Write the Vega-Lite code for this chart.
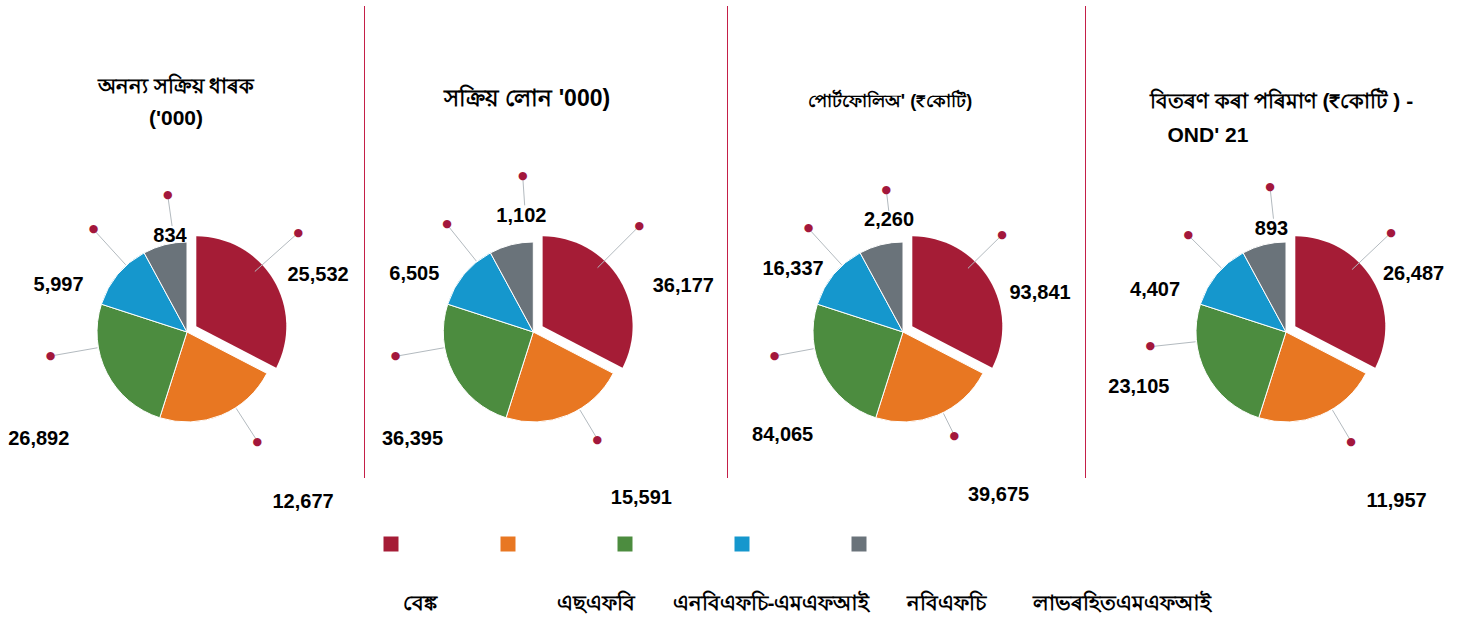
{
  "$schema": "https://vega.github.io/schema/vega-lite/v6.json",
  "padding": {"left": 0, "top": 6, "right": 0, "bottom": 0},
  "background": "#ffffff",
  "spacing": 0,
  "config": {
    "view": {"stroke": null},
    "title": {"font": "Liberation Sans", "fontSize": 21, "fontWeight": "bold", "color": "#000000", "anchor": "middle", "frame": "group"}
  },
  "datasets": {
    "p1": [
      {"cat": "বেঙ্ক", "idx": 1, "share": 32.6, "value": 25532},
      {"cat": "এছএফবি", "idx": 2, "share": 22.3, "value": 12677},
      {"cat": "এনবিএফচি-এমএফআই", "idx": 3, "share": 25.1, "value": 26892},
      {"cat": "নবিএফচি", "idx": 4, "share": 12.1, "value": 5997},
      {"cat": "লাভৰহিতএমএফআই", "idx": 5, "share": 7.9, "value": 834}
    ],
    "p2": [
      {"cat": "বেঙ্ক", "idx": 1, "share": 32.6, "value": 36177},
      {"cat": "এছএফবি", "idx": 2, "share": 22.3, "value": 15591},
      {"cat": "এনবিএফচি-এমএফআই", "idx": 3, "share": 25.1, "value": 36395},
      {"cat": "নবিএফচি", "idx": 4, "share": 12.1, "value": 6505},
      {"cat": "লাভৰহিতএমএফআই", "idx": 5, "share": 7.9, "value": 1102}
    ],
    "p3": [
      {"cat": "বেঙ্ক", "idx": 1, "share": 32.6, "value": 93841},
      {"cat": "এছএফবি", "idx": 2, "share": 22.3, "value": 39675},
      {"cat": "এনবিএফচি-এমএফআই", "idx": 3, "share": 25.1, "value": 84065},
      {"cat": "নবিএফচি", "idx": 4, "share": 12.1, "value": 16337},
      {"cat": "লাভৰহিতএমএফআই", "idx": 5, "share": 7.9, "value": 2260}
    ],
    "p4": [
      {"cat": "বেঙ্ক", "idx": 1, "share": 32.6, "value": 26487},
      {"cat": "এছএফবি", "idx": 2, "share": 22.3, "value": 11957},
      {"cat": "এনবিএফচি-এমএফআই", "idx": 3, "share": 25.1, "value": 23105},
      {"cat": "নবিএফচি", "idx": 4, "share": 12.1, "value": 4407},
      {"cat": "লাভৰহিতএমএফআই", "idx": 5, "share": 7.9, "value": 893}
    ],
    "cats": [
      {"cat": "বেঙ্ক", "idx": 1},
      {"cat": "এছএফবি", "idx": 2},
      {"cat": "এনবিএফচি-এমএফআই", "idx": 3},
      {"cat": "নবিএফচি", "idx": 4},
      {"cat": "লাভৰহিতএমএফআই", "idx": 5}
    ]
  },
  "vconcat": [
    {
      "spacing": 0,
      "bounds": "flush",
      "hconcat": [
        {
          "width": 364, "height": 510,
          "title": {"text": ["অনন্য সক্ৰিয় ধাৰক", "('000)"], "offset": -123, "dx": -6, "lineHeight": 32},
          "data": {"name": "p1"},
          "encoding": {
            "theta": {"field": "share", "type": "quantitative", "stack": true},
            "order": {"field": "idx", "type": "quantitative"}
          },
          "layer": [
            {"mark": {"type": "arc", "radius": 90, "stroke": "#ffffff", "strokeWidth": 1, "xOffset": 5, "yOffset": 71},
             "encoding": {"color": {"field": "cat", "type": "nominal", "scale": {"domain": ["বেঙ্ক", "এছএফবি", "এনবিএফচি-এমএফআই", "নবিএফচি", "লাভৰহিতএমএফআই"], "range": ["#a51c36", "#e87722", "#4c8c3f", "#1597cd", "#6a737a"]}, "legend": null},
               "opacity": {"condition": {"test": "datum.idx == 1", "value": 0}, "value": 1}}},
            {"mark": {"type": "arc", "radius": 90, "xOffset": 14.3, "yOffset": 65.3},
             "encoding": {"color": {"field": "cat", "type": "nominal", "scale": {"domain": ["বেঙ্ক", "এছএফবি", "এনবিএফচি-এমএফআই", "নবিএফচি", "লাভৰহিতএমএফআই"], "range": ["#a51c36", "#e87722", "#4c8c3f", "#1597cd", "#6a737a"]}, "legend": null},
               "opacity": {"condition": {"test": "datum.idx == 1", "value": 1}, "value": 0}}},
            {"mark": {"type": "arc", "radius": 146, "radius2": 91, "thetaOffset": 0.8423, "filled": false, "stroke": "#b3babf", "strokeWidth": 1, "strokeDash": [0, 299.05, 55, 3000], "xOffset": 5, "yOffset": 71},
             "encoding": {"detail": {"field": "cat", "type": "nominal"}, "opacity": {"condition": {"test": "datum.idx == 1", "value": 1}, "value": 0}}},
            {"mark": {"type": "arc", "radius": 127, "radius2": 91, "thetaOffset": 0.5208, "filled": false, "stroke": "#b3babf", "strokeWidth": 1, "strokeDash": [0, 177.94, 36, 3000], "xOffset": 5, "yOffset": 71},
             "encoding": {"detail": {"field": "cat", "type": "nominal"}, "opacity": {"condition": {"test": "datum.idx == 2", "value": 1}, "value": 0}}},
            {"mark": {"type": "arc", "radius": 135, "radius2": 91, "thetaOffset": 1.0886, "filled": false, "stroke": "#b3babf", "strokeWidth": 1, "strokeDash": [0, 212.91, 44, 3000], "xOffset": 5, "yOffset": 71},
             "encoding": {"detail": {"field": "cat", "type": "nominal"}, "opacity": {"condition": {"test": "datum.idx == 3", "value": 1}, "value": 0}}},
            {"mark": {"type": "arc", "radius": 136, "radius2": 91, "thetaOffset": 0.5173, "filled": false, "stroke": "#b3babf", "strokeWidth": 1, "strokeDash": [0, 103.4, 45, 3000], "xOffset": 5, "yOffset": 71},
             "encoding": {"detail": {"field": "cat", "type": "nominal"}, "opacity": {"condition": {"test": "datum.idx == 4", "value": 1}, "value": 0}}},
            {"mark": {"type": "arc", "radius": 135, "radius2": 107, "thetaOffset": 0.3564, "filled": false, "stroke": "#b3babf", "strokeWidth": 1, "strokeDash": [0, 67.01, 28, 3000], "xOffset": 5, "yOffset": 71},
             "encoding": {"detail": {"field": "cat", "type": "nominal"}, "opacity": {"condition": {"test": "datum.idx == 5", "value": 1}, "value": 0}}},
            {"mark": {"type": "text", "radius": 143.1, "thetaOffset": 0.1335, "xOffset": 5, "yOffset": 71, "font": "Liberation Sans", "fontSize": 20, "fontWeight": "bold", "color": "#000000"},
             "encoding": {"detail": {"field": "cat", "type": "nominal"}, "text": {"condition": {"test": "datum.idx == 1", "field": "value", "type": "quantitative", "format": ","}, "value": ""}}},
            {"mark": {"type": "text", "radius": 206.1, "thetaOffset": -0.2054, "xOffset": 5, "yOffset": 71, "font": "Liberation Sans", "fontSize": 20, "fontWeight": "bold", "color": "#000000"},
             "encoding": {"detail": {"field": "cat", "type": "nominal"}, "text": {"condition": {"test": "datum.idx == 2", "field": "value", "type": "quantitative", "format": ","}, "value": ""}}},
            {"mark": {"type": "text", "radius": 182.6, "thetaOffset": -0.1487, "xOffset": 5, "yOffset": 71, "font": "Liberation Sans", "fontSize": 20, "fontWeight": "bold", "color": "#000000"},
             "encoding": {"detail": {"field": "cat", "type": "nominal"}, "text": {"condition": {"test": "datum.idx == 3", "field": "value", "type": "quantitative", "format": ","}, "value": ""}}},
            {"mark": {"type": "text", "radius": 136.8, "thetaOffset": -0.3421, "xOffset": 5, "yOffset": 71, "font": "Liberation Sans", "fontSize": 20, "fontWeight": "bold", "color": "#000000"},
             "encoding": {"detail": {"field": "cat", "type": "nominal"}, "text": {"condition": {"test": "datum.idx == 4", "field": "value", "type": "quantitative", "format": ","}, "value": ""}}},
            {"mark": {"type": "text", "radius": 97, "thetaOffset": 0.0726, "xOffset": 5, "yOffset": 71, "font": "Liberation Sans", "fontSize": 20, "fontWeight": "bold", "color": "#000000"},
             "encoding": {"detail": {"field": "cat", "type": "nominal"}, "text": {"condition": {"test": "datum.idx == 5", "field": "value", "type": "quantitative", "format": ","}, "value": ""}}},
            {"mark": {"type": "text", "radius": 149.2, "thetaOffset": -0.1813, "xOffset": 5, "yOffset": 71, "font": "DejaVu Sans", "fontSize": 11, "color": "#a3173c"},
             "encoding": {"detail": {"field": "cat", "type": "nominal"}, "text": {"condition": {"test": "datum.idx == 1", "value": "●"}, "value": ""}}},
            {"mark": {"type": "text", "radius": 130.5, "thetaOffset": -0.1772, "xOffset": 5, "yOffset": 71, "font": "DejaVu Sans", "fontSize": 11, "color": "#a3173c"},
             "encoding": {"detail": {"field": "cat", "type": "nominal"}, "text": {"condition": {"test": "datum.idx == 2", "value": "●"}, "value": ""}}},
            {"mark": {"type": "text", "radius": 138.4, "thetaOffset": 0.303, "xOffset": 5, "yOffset": 71, "font": "DejaVu Sans", "fontSize": 11, "color": "#a3173c"},
             "encoding": {"detail": {"field": "cat", "type": "nominal"}, "text": {"condition": {"test": "datum.idx == 3", "value": "●"}, "value": ""}}},
            {"mark": {"type": "text", "radius": 139, "thetaOffset": 0.1384, "xOffset": 5, "yOffset": 71, "font": "DejaVu Sans", "fontSize": 11, "color": "#a3173c"},
             "encoding": {"detail": {"field": "cat", "type": "nominal"}, "text": {"condition": {"test": "datum.idx == 4", "value": "●"}, "value": ""}}},
            {"mark": {"type": "text", "radius": 138.4, "thetaOffset": 0.1087, "xOffset": 5, "yOffset": 71, "font": "DejaVu Sans", "fontSize": 11, "color": "#a3173c"},
             "encoding": {"detail": {"field": "cat", "type": "nominal"}, "text": {"condition": {"test": "datum.idx == 5", "value": "●"}, "value": ""}}}
          ]
        },
        {"width": 1, "height": 472, "data": {"values": [{"s": 1}]}, "mark": {"type": "rect", "color": "#c41f48"}, "encoding": {}},
        {
          "width": 362, "height": 510,
          "title": {"text": "সক্ৰিয় লোন '000)", "offset": -105, "dx": -19, "fontSize": 23},
          "data": {"name": "p2"},
          "encoding": {
            "theta": {"field": "share", "type": "quantitative", "stack": true},
            "order": {"field": "idx", "type": "quantitative"}
          },
          "layer": [
            {"mark": {"type": "arc", "radius": 90, "stroke": "#ffffff", "strokeWidth": 1, "xOffset": -12.7, "yOffset": 71},
             "encoding": {"color": {"field": "cat", "type": "nominal", "scale": {"domain": ["বেঙ্ক", "এছএফবি", "এনবিএফচি-এমএফআই", "নবিএফচি", "লাভৰহিতএমএফআই"], "range": ["#a51c36", "#e87722", "#4c8c3f", "#1597cd", "#6a737a"]}, "legend": null},
               "opacity": {"condition": {"test": "datum.idx == 1", "value": 0}, "value": 1}}},
            {"mark": {"type": "arc", "radius": 90, "xOffset": -3.4, "yOffset": 65.3},
             "encoding": {"color": {"field": "cat", "type": "nominal", "scale": {"domain": ["বেঙ্ক", "এছএফবি", "এনবিএফচি-এমএফআই", "নবিএফচি", "লাভৰহিতএমএফআই"], "range": ["#a51c36", "#e87722", "#4c8c3f", "#1597cd", "#6a737a"]}, "legend": null},
               "opacity": {"condition": {"test": "datum.idx == 1", "value": 1}, "value": 0}}},
            {"mark": {"type": "arc", "radius": 147, "radius2": 91, "thetaOffset": 0.7854, "filled": false, "stroke": "#b3babf", "strokeWidth": 1, "strokeDash": [0, 301.1, 56, 3000], "xOffset": -12.7, "yOffset": 71},
             "encoding": {"detail": {"field": "cat", "type": "nominal"}, "opacity": {"condition": {"test": "datum.idx == 1", "value": 1}, "value": 0}}},
            {"mark": {"type": "arc", "radius": 122, "radius2": 91, "thetaOffset": 0.554, "filled": false, "stroke": "#b3babf", "strokeWidth": 1, "strokeDash": [0, 170.93, 31, 3000], "xOffset": -12.7, "yOffset": 71},
             "encoding": {"detail": {"field": "cat", "type": "nominal"}, "opacity": {"condition": {"test": "datum.idx == 2", "value": 1}, "value": 0}}},
            {"mark": {"type": "arc", "radius": 137, "radius2": 91, "thetaOffset": 1.0881, "filled": false, "stroke": "#b3babf", "strokeWidth": 1, "strokeDash": [0, 216.06, 46, 3000], "xOffset": -12.7, "yOffset": 71},
             "encoding": {"detail": {"field": "cat", "type": "nominal"}, "opacity": {"condition": {"test": "datum.idx == 3", "value": 1}, "value": 0}}},
            {"mark": {"type": "arc", "radius": 135, "radius2": 91, "thetaOffset": 0.58, "filled": false, "stroke": "#b3babf", "strokeWidth": 1, "strokeDash": [0, 102.64, 44, 3000], "xOffset": -12.7, "yOffset": 71},
             "encoding": {"detail": {"field": "cat", "type": "nominal"}, "opacity": {"condition": {"test": "datum.idx == 4", "value": 1}, "value": 0}}},
            {"mark": {"type": "arc", "radius": 153, "radius2": 127, "thetaOffset": 0.4285, "filled": false, "stroke": "#b3babf", "strokeWidth": 1, "strokeDash": [0, 75.95, 26, 3000], "xOffset": -12.7, "yOffset": 71},
             "encoding": {"detail": {"field": "cat", "type": "nominal"}, "opacity": {"condition": {"test": "datum.idx == 5", "value": 1}, "value": 0}}},
            {"mark": {"type": "text", "radius": 157, "thetaOffset": 0.2466, "xOffset": -12.7, "yOffset": 71, "font": "Liberation Sans", "fontSize": 20, "fontWeight": "bold", "color": "#000000"},
             "encoding": {"detail": {"field": "cat", "type": "nominal"}, "text": {"condition": {"test": "datum.idx == 1", "field": "value", "type": "quantitative", "format": ","}, "value": ""}}},
            {"mark": {"type": "text", "radius": 197.9, "thetaOffset": -0.185, "xOffset": -12.7, "yOffset": 71, "font": "Liberation Sans", "fontSize": 20, "fontWeight": "bold", "color": "#000000"},
             "encoding": {"detail": {"field": "cat", "type": "nominal"}, "text": {"condition": {"test": "datum.idx == 2", "field": "value", "type": "quantitative", "format": ","}, "value": ""}}},
            {"mark": {"type": "text", "radius": 161.5, "thetaOffset": -0.251, "xOffset": -12.7, "yOffset": 71, "font": "Liberation Sans", "fontSize": 20, "fontWeight": "bold", "color": "#000000"},
             "encoding": {"detail": {"field": "cat", "type": "nominal"}, "text": {"condition": {"test": "datum.idx == 3", "field": "value", "type": "quantitative", "format": ","}, "value": ""}}},
            {"mark": {"type": "text", "radius": 132.2, "thetaOffset": -0.2428, "xOffset": -12.7, "yOffset": 71, "font": "Liberation Sans", "fontSize": 20, "fontWeight": "bold", "color": "#000000"},
             "encoding": {"detail": {"field": "cat", "type": "nominal"}, "text": {"condition": {"test": "datum.idx == 4", "field": "value", "type": "quantitative", "format": ","}, "value": ""}}},
            {"mark": {"type": "text", "radius": 117.1, "thetaOffset": 0.1461, "xOffset": -12.7, "yOffset": 71, "font": "Liberation Sans", "fontSize": 20, "fontWeight": "bold", "color": "#000000"},
             "encoding": {"detail": {"field": "cat", "type": "nominal"}, "text": {"condition": {"test": "datum.idx == 5", "field": "value", "type": "quantitative", "format": ","}, "value": ""}}},
            {"mark": {"type": "text", "radius": 149.9, "thetaOffset": -0.2382, "xOffset": -12.7, "yOffset": 71, "font": "DejaVu Sans", "fontSize": 11, "color": "#a3173c"},
             "encoding": {"detail": {"field": "cat", "type": "nominal"}, "text": {"condition": {"test": "datum.idx == 1", "value": "●"}, "value": ""}}},
            {"mark": {"type": "text", "radius": 125.4, "thetaOffset": -0.144, "xOffset": -12.7, "yOffset": 71, "font": "DejaVu Sans", "fontSize": 11, "color": "#a3173c"},
             "encoding": {"detail": {"field": "cat", "type": "nominal"}, "text": {"condition": {"test": "datum.idx == 2", "value": "●"}, "value": ""}}},
            {"mark": {"type": "text", "radius": 139.7, "thetaOffset": 0.3025, "xOffset": -12.7, "yOffset": 71, "font": "DejaVu Sans", "fontSize": 11, "color": "#a3173c"},
             "encoding": {"detail": {"field": "cat", "type": "nominal"}, "text": {"condition": {"test": "datum.idx == 3", "value": "●"}, "value": ""}}},
            {"mark": {"type": "text", "radius": 137.8, "thetaOffset": 0.2011, "xOffset": -12.7, "yOffset": 71, "font": "DejaVu Sans", "fontSize": 11, "color": "#a3173c"},
             "encoding": {"detail": {"field": "cat", "type": "nominal"}, "text": {"condition": {"test": "datum.idx == 4", "value": "●"}, "value": ""}}},
            {"mark": {"type": "text", "radius": 156.4, "thetaOffset": 0.1808, "xOffset": -12.7, "yOffset": 71, "font": "DejaVu Sans", "fontSize": 11, "color": "#a3173c"},
             "encoding": {"detail": {"field": "cat", "type": "nominal"}, "text": {"condition": {"test": "datum.idx == 5", "value": "●"}, "value": ""}}}
          ]
        },
        {"width": 1, "height": 472, "data": {"values": [{"s": 1}]}, "mark": {"type": "rect", "color": "#c41f48"}, "encoding": {}},
        {
          "width": 357, "height": 510,
          "title": {"text": "পোৰ্টফোলিঅ' (₹কোটি)", "offset": -105, "dx": -16.5, "fontSize": 18},
          "data": {"name": "p3"},
          "encoding": {
            "theta": {"field": "share", "type": "quantitative", "stack": true},
            "order": {"field": "idx", "type": "quantitative"}
          },
          "layer": [
            {"mark": {"type": "arc", "radius": 90, "stroke": "#ffffff", "strokeWidth": 1, "xOffset": -3.5, "yOffset": 71},
             "encoding": {"color": {"field": "cat", "type": "nominal", "scale": {"domain": ["বেঙ্ক", "এছএফবি", "এনবিএফচি-এমএফআই", "নবিএফচি", "লাভৰহিতএমএফআই"], "range": ["#a51c36", "#e87722", "#4c8c3f", "#1597cd", "#6a737a"]}, "legend": null},
               "opacity": {"condition": {"test": "datum.idx == 1", "value": 0}, "value": 1}}},
            {"mark": {"type": "arc", "radius": 90, "xOffset": 5.8, "yOffset": 65.3},
             "encoding": {"color": {"field": "cat", "type": "nominal", "scale": {"domain": ["বেঙ্ক", "এছএফবি", "এনবিএফচি-এমএফআই", "নবিএফচি", "লাভৰহিতএমএফআই"], "range": ["#a51c36", "#e87722", "#4c8c3f", "#1597cd", "#6a737a"]}, "legend": null},
               "opacity": {"condition": {"test": "datum.idx == 1", "value": 1}, "value": 0}}},
            {"mark": {"type": "arc", "radius": 136, "radius2": 91, "thetaOffset": 0.7955, "filled": false, "stroke": "#b3babf", "strokeWidth": 1, "strokeDash": [0, 278.57, 45, 3000], "xOffset": -3.5, "yOffset": 71},
             "encoding": {"detail": {"field": "cat", "type": "nominal"}, "opacity": {"condition": {"test": "datum.idx == 1", "value": 1}, "value": 0}}},
            {"mark": {"type": "arc", "radius": 113, "radius2": 91, "thetaOffset": 0.632, "filled": false, "stroke": "#b3babf", "strokeWidth": 1, "strokeDash": [0, 158.32, 22, 3000], "xOffset": -3.5, "yOffset": 71},
             "encoding": {"detail": {"field": "cat", "type": "nominal"}, "opacity": {"condition": {"test": "datum.idx == 2", "value": 1}, "value": 0}}},
            {"mark": {"type": "arc", "radius": 128, "radius2": 91, "thetaOffset": 1.078, "filled": false, "stroke": "#b3babf", "strokeWidth": 1, "strokeDash": [0, 201.87, 37, 3000], "xOffset": -3.5, "yOffset": 71},
             "encoding": {"detail": {"field": "cat", "type": "nominal"}, "opacity": {"condition": {"test": "datum.idx == 3", "value": 1}, "value": 0}}},
            {"mark": {"type": "arc", "radius": 137, "radius2": 91, "thetaOffset": 0.5167, "filled": false, "stroke": "#b3babf", "strokeWidth": 1, "strokeDash": [0, 104.16, 46, 3000], "xOffset": -3.5, "yOffset": 71},
             "encoding": {"detail": {"field": "cat", "type": "nominal"}, "opacity": {"condition": {"test": "datum.idx == 4", "value": 1}, "value": 0}}},
            {"mark": {"type": "arc", "radius": 140, "radius2": 122, "thetaOffset": 0.3793, "filled": false, "stroke": "#b3babf", "strokeWidth": 1, "strokeDash": [0, 69.5, 18, 3000], "xOffset": -3.5, "yOffset": 71},
             "encoding": {"detail": {"field": "cat", "type": "nominal"}, "opacity": {"condition": {"test": "datum.idx == 5", "value": 1}, "value": 0}}},
            {"mark": {"type": "text", "radius": 142.6, "thetaOffset": 0.2665, "xOffset": -3.5, "yOffset": 71, "font": "Liberation Sans", "fontSize": 20, "fontWeight": "bold", "color": "#000000"},
             "encoding": {"detail": {"field": "cat", "type": "nominal"}, "text": {"condition": {"test": "datum.idx == 1", "field": "value", "type": "quantitative", "format": ","}, "value": ""}}},
            {"mark": {"type": "text", "radius": 188.7, "thetaOffset": -0.1382, "xOffset": -3.5, "yOffset": 71, "font": "Liberation Sans", "fontSize": 20, "fontWeight": "bold", "color": "#000000"},
             "encoding": {"detail": {"field": "cat", "type": "nominal"}, "text": {"condition": {"test": "datum.idx == 2", "field": "value", "type": "quantitative", "format": ","}, "value": ""}}},
            {"mark": {"type": "text", "radius": 158.5, "thetaOffset": -0.2342, "xOffset": -3.5, "yOffset": 71, "font": "Liberation Sans", "fontSize": 20, "fontWeight": "bold", "color": "#000000"},
             "encoding": {"detail": {"field": "cat", "type": "nominal"}, "text": {"condition": {"test": "datum.idx == 3", "field": "value", "type": "quantitative", "format": ","}, "value": ""}}},
            {"mark": {"type": "text", "radius": 126.8, "thetaOffset": -0.1728, "xOffset": -3.5, "yOffset": 71, "font": "Liberation Sans", "fontSize": 20, "fontWeight": "bold", "color": "#000000"},
             "encoding": {"detail": {"field": "cat", "type": "nominal"}, "text": {"condition": {"test": "datum.idx == 4", "field": "value", "type": "quantitative", "format": ","}, "value": ""}}},
            {"mark": {"type": "text", "radius": 112.4, "thetaOffset": 0.1237, "xOffset": -3.5, "yOffset": 71, "font": "Liberation Sans", "fontSize": 20, "fontWeight": "bold", "color": "#000000"},
             "encoding": {"detail": {"field": "cat", "type": "nominal"}, "text": {"condition": {"test": "datum.idx == 5", "field": "value", "type": "quantitative", "format": ","}, "value": ""}}},
            {"mark": {"type": "text", "radius": 138.6, "thetaOffset": -0.2281, "xOffset": -3.5, "yOffset": 71, "font": "DejaVu Sans", "fontSize": 11, "color": "#a3173c"},
             "encoding": {"detail": {"field": "cat", "type": "nominal"}, "text": {"condition": {"test": "datum.idx == 1", "value": "●"}, "value": ""}}},
            {"mark": {"type": "text", "radius": 116.1, "thetaOffset": -0.066, "xOffset": -3.5, "yOffset": 71, "font": "DejaVu Sans", "fontSize": 11, "color": "#a3173c"},
             "encoding": {"detail": {"field": "cat", "type": "nominal"}, "text": {"condition": {"test": "datum.idx == 2", "value": "●"}, "value": ""}}},
            {"mark": {"type": "text", "radius": 130.5, "thetaOffset": 0.2923, "xOffset": -3.5, "yOffset": 71, "font": "DejaVu Sans", "fontSize": 11, "color": "#a3173c"},
             "encoding": {"detail": {"field": "cat", "type": "nominal"}, "text": {"condition": {"test": "datum.idx == 3", "value": "●"}, "value": ""}}},
            {"mark": {"type": "text", "radius": 140.4, "thetaOffset": 0.1379, "xOffset": -3.5, "yOffset": 71, "font": "DejaVu Sans", "fontSize": 11, "color": "#a3173c"},
             "encoding": {"detail": {"field": "cat", "type": "nominal"}, "text": {"condition": {"test": "datum.idx == 4", "value": "●"}, "value": ""}}},
            {"mark": {"type": "text", "radius": 143, "thetaOffset": 0.1316, "xOffset": -3.5, "yOffset": 71, "font": "DejaVu Sans", "fontSize": 11, "color": "#a3173c"},
             "encoding": {"detail": {"field": "cat", "type": "nominal"}, "text": {"condition": {"test": "datum.idx == 5", "value": "●"}, "value": ""}}}
          ]
        },
        {"width": 1, "height": 472, "data": {"values": [{"s": 1}]}, "mark": {"type": "rect", "color": "#c41f48"}, "encoding": {}},
        {
          "width": 385, "height": 510,
          "title": {"text": ["বিতৰণ কৰা পৰিমাণ (₹কোটি ) -", "\u200b\u00a0\u00a0\u00a0OND' 21"], "offset": -140, "anchor": "start", "dx": 64, "lineHeight": 34},
          "data": {"name": "p4"},
          "encoding": {
            "theta": {"field": "share", "type": "quantitative", "stack": true},
            "order": {"field": "idx", "type": "quantitative"}
          },
          "layer": [
            {"mark": {"type": "arc", "radius": 90, "stroke": "#ffffff", "strokeWidth": 1, "xOffset": 7.5, "yOffset": 71},
             "encoding": {"color": {"field": "cat", "type": "nominal", "scale": {"domain": ["বেঙ্ক", "এছএফবি", "এনবিএফচি-এমএফআই", "নবিএফচি", "লাভৰহিতএমএফআই"], "range": ["#a51c36", "#e87722", "#4c8c3f", "#1597cd", "#6a737a"]}, "legend": null},
               "opacity": {"condition": {"test": "datum.idx == 1", "value": 0}, "value": 1}}},
            {"mark": {"type": "arc", "radius": 90, "xOffset": 16.8, "yOffset": 65.3},
             "encoding": {"color": {"field": "cat", "type": "nominal", "scale": {"domain": ["বেঙ্ক", "এছএফবি", "এনবিএফচি-এমএফআই", "নবিএফচি", "লাভৰহিতএমএফআই"], "range": ["#a51c36", "#e87722", "#4c8c3f", "#1597cd", "#6a737a"]}, "legend": null},
               "opacity": {"condition": {"test": "datum.idx == 1", "value": 1}, "value": 0}}},
            {"mark": {"type": "arc", "radius": 141, "radius2": 91, "thetaOffset": 0.8133, "filled": false, "stroke": "#b3babf", "strokeWidth": 1, "strokeDash": [0, 288.81, 50, 3000], "xOffset": 7.5, "yOffset": 71},
             "encoding": {"detail": {"field": "cat", "type": "nominal"}, "opacity": {"condition": {"test": "datum.idx == 1", "value": 1}, "value": 0}}},
            {"mark": {"type": "arc", "radius": 125, "radius2": 91, "thetaOffset": 0.5564, "filled": false, "stroke": "#b3babf", "strokeWidth": 1, "strokeDash": [0, 175.14, 34, 3000], "xOffset": 7.5, "yOffset": 71},
             "encoding": {"detail": {"field": "cat", "type": "nominal"}, "opacity": {"condition": {"test": "datum.idx == 2", "value": 1}, "value": 0}}},
            {"mark": {"type": "arc", "radius": 133, "radius2": 91, "thetaOffset": 1.1551, "filled": false, "stroke": "#b3babf", "strokeWidth": 1, "strokeDash": [0, 209.75, 42, 3000], "xOffset": 7.5, "yOffset": 71},
             "encoding": {"detail": {"field": "cat", "type": "nominal"}, "opacity": {"condition": {"test": "datum.idx == 3", "value": 1}, "value": 0}}},
            {"mark": {"type": "arc", "radius": 134, "radius2": 91, "thetaOffset": 0.4662, "filled": false, "stroke": "#b3babf", "strokeWidth": 1, "strokeDash": [0, 101.88, 43, 3000], "xOffset": 7.5, "yOffset": 71},
             "encoding": {"detail": {"field": "cat", "type": "nominal"}, "opacity": {"condition": {"test": "datum.idx == 4", "value": 1}, "value": 0}}},
            {"mark": {"type": "arc", "radius": 143, "radius2": 114, "thetaOffset": 0.3863, "filled": false, "stroke": "#b3babf", "strokeWidth": 1, "strokeDash": [0, 70.99, 29, 3000], "xOffset": 7.5, "yOffset": 71},
             "encoding": {"detail": {"field": "cat", "type": "nominal"}, "opacity": {"condition": {"test": "datum.idx == 5", "value": 1}, "value": 0}}},
            {"mark": {"type": "text", "radius": 140.1, "thetaOffset": 0.1203, "xOffset": 7.5, "yOffset": 71, "font": "Liberation Sans", "fontSize": 20, "fontWeight": "bold", "color": "#000000"},
             "encoding": {"detail": {"field": "cat", "type": "nominal"}, "text": {"condition": {"test": "datum.idx == 1", "field": "value", "type": "quantitative", "format": ","}, "value": ""}}},
            {"mark": {"type": "text", "radius": 201.8, "thetaOffset": -0.1873, "xOffset": 7.5, "yOffset": 71, "font": "Liberation Sans", "fontSize": 20, "fontWeight": "bold", "color": "#000000"},
             "encoding": {"detail": {"field": "cat", "type": "nominal"}, "text": {"condition": {"test": "datum.idx == 2", "field": "value", "type": "quantitative", "format": ","}, "value": ""}}},
            {"mark": {"type": "text", "radius": 157.1, "thetaOffset": 0.1164, "xOffset": 7.5, "yOffset": 71, "font": "Liberation Sans", "fontSize": 20, "fontWeight": "bold", "color": "#000000"},
             "encoding": {"detail": {"field": "cat", "type": "nominal"}, "text": {"condition": {"test": "datum.idx == 3", "field": "value", "type": "quantitative", "format": ","}, "value": ""}}},
            {"mark": {"type": "text", "radius": 137.4, "thetaOffset": -0.3861, "xOffset": 7.5, "yOffset": 71, "font": "Liberation Sans", "fontSize": 20, "fontWeight": "bold", "color": "#000000"},
             "encoding": {"detail": {"field": "cat", "type": "nominal"}, "text": {"condition": {"test": "datum.idx == 4", "field": "value", "type": "quantitative", "format": ","}, "value": ""}}},
            {"mark": {"type": "text", "radius": 104, "thetaOffset": 0.1089, "xOffset": 7.5, "yOffset": 71, "font": "Liberation Sans", "fontSize": 20, "fontWeight": "bold", "color": "#000000"},
             "encoding": {"detail": {"field": "cat", "type": "nominal"}, "text": {"condition": {"test": "datum.idx == 5", "field": "value", "type": "quantitative", "format": ","}, "value": ""}}},
            {"mark": {"type": "text", "radius": 144.5, "thetaOffset": -0.2103, "xOffset": 7.5, "yOffset": 71, "font": "DejaVu Sans", "fontSize": 11, "color": "#a3173c"},
             "encoding": {"detail": {"field": "cat", "type": "nominal"}, "text": {"condition": {"test": "datum.idx == 1", "value": "●"}, "value": ""}}},
            {"mark": {"type": "text", "radius": 127.7, "thetaOffset": -0.1415, "xOffset": 7.5, "yOffset": 71, "font": "DejaVu Sans", "fontSize": 11, "color": "#a3173c"},
             "encoding": {"detail": {"field": "cat", "type": "nominal"}, "text": {"condition": {"test": "datum.idx == 2", "value": "●"}, "value": ""}}},
            {"mark": {"type": "text", "radius": 136.5, "thetaOffset": 0.3695, "xOffset": 7.5, "yOffset": 71, "font": "DejaVu Sans", "fontSize": 11, "color": "#a3173c"},
             "encoding": {"detail": {"field": "cat", "type": "nominal"}, "text": {"condition": {"test": "datum.idx == 3", "value": "●"}, "value": ""}}},
            {"mark": {"type": "text", "radius": 137.5, "thetaOffset": 0.0874, "xOffset": 7.5, "yOffset": 71, "font": "DejaVu Sans", "fontSize": 11, "color": "#a3173c"},
             "encoding": {"detail": {"field": "cat", "type": "nominal"}, "text": {"condition": {"test": "datum.idx == 4", "value": "●"}, "value": ""}}},
            {"mark": {"type": "text", "radius": 145.6, "thetaOffset": 0.1386, "xOffset": 7.5, "yOffset": 71, "font": "DejaVu Sans", "fontSize": 11, "color": "#a3173c"},
             "encoding": {"detail": {"field": "cat", "type": "nominal"}, "text": {"condition": {"test": "datum.idx == 5", "value": "●"}, "value": ""}}}
          ]
        }
      ]
    },
    {
      "width": 1471, "height": 103,
      "data": {"name": "cats"},
      "layer": [
        {"mark": {"type": "square", "size": 225, "opacity": 1, "yOffset": -23.5},
         "encoding": {
           "x": {"field": "cat", "type": "nominal", "sort": ["বেঙ্ক", "এছএফবি", "এনবিএফচি-এমএফআই", "নবিএফচি", "লাভৰহিতএমএফআই"], "scale": {"type": "point", "padding": 0, "range": [391, 859]}, "axis": null},
           "color": {"field": "cat", "type": "nominal", "scale": {"domain": ["বেঙ্ক", "এছএফবি", "এনবিএফচি-এমএফআই", "নবিএফচি", "লাভৰহিতএমএফআই"], "range": ["#a51c36", "#e87722", "#4c8c3f", "#1597cd", "#6a737a"]}, "legend": null}}},
        {"mark": {"type": "text", "yOffset": 36.5, "fontSize": 21, "fontWeight": "bold", "font": "Liberation Sans", "color": "#000000"},
         "encoding": {
           "x": {"field": "cat", "type": "nominal", "sort": ["বেঙ্ক", "এছএফবি", "এনবিএফচি-এমএফআই", "নবিএফচি", "লাভৰহিতএমএফআই"], "scale": {"type": "point", "padding": 0, "range": [420, 1122]}, "axis": null},
           "text": {"field": "cat", "type": "nominal"}}}
      ],
      "resolve": {"scale": {"x": "independent"}}
    }
  ]
}
